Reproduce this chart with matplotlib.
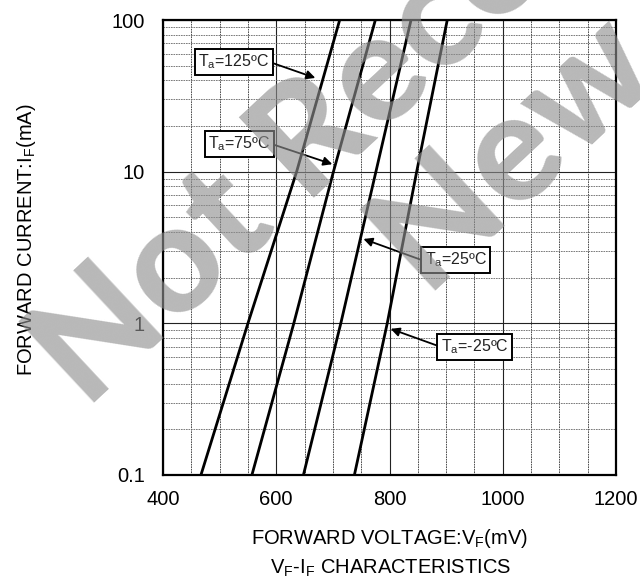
import numpy as np
import matplotlib
matplotlib.use("Agg")
import matplotlib.pyplot as plt
from matplotlib.ticker import FixedLocator, NullFormatter

plt.rcParams['font.family'] = ['Liberation Sans', 'DejaVu Sans']
plt.rcParams['mathtext.fontset'] = 'custom'
plt.rcParams['mathtext.rm'] = 'Liberation Sans'

# forward current points (mA) and forward voltage (mV)
current = [0.1, 1, 10, 100]
vf_125 = [467, 550, 636, 712]
vf_75 = [557, 631, 701, 775]
vf_25 = [648, 714, 776, 838]
vf_m25 = [738, 796, 848, 902]

temps = ["125", "75", "25", "-25"]
curves = [vf_125, vf_75, vf_25, vf_m25]

# annotation: arrow tip (mV, mA), box centre (mV, mA), arrow start on the box
tips = [(669, 41.5), (699, 11.2), (754, 3.6), (802, 0.92)]
boxes = [(525, 52.9), (535, 15.3), (917, 2.61), (950, 0.70)]
relpos = [(1, 0.5), (1, 0.5), (0, 0.45), (0, 0.5)]

fig = plt.figure(figsize=(6.4, 5.87), dpi=100)
ax = fig.add_axes([163 / 640, 1 - 475 / 587, (616 - 163) / 640, (475 - 20) / 587])

for vf in curves:
    ax.plot(vf, current, color='black', lw=2.0, solid_capstyle='butt', zorder=3)

ax.set_yscale('log')
ax.set_xlim(400, 1200)
ax.set_ylim(0.1, 100)

ax.xaxis.set_major_locator(FixedLocator([400, 600, 800, 1000, 1200]))
ax.xaxis.set_minor_locator(FixedLocator(np.arange(400, 1201, 50)))
ax.yaxis.set_major_locator(FixedLocator([0.1, 1, 10, 100]))
minor_y = [m * d for d in [0.1, 1, 10] for m in range(2, 10)]
ax.yaxis.set_minor_locator(FixedLocator(minor_y))
ax.yaxis.set_minor_formatter(NullFormatter())
ax.set_yticklabels(["0.1", "1", "10", "100"])
ax.tick_params(which='both', length=0, labelsize=14.5, colors='black')
ax.tick_params(axis='x', pad=11)
ax.tick_params(axis='y', pad=13)

ax.grid(which='minor', axis='x', color='#333333', lw=0.6, ls=(0, (2, 1)), zorder=1)
ax.grid(which='minor', axis='y', color='#666666', lw=0.6, ls=(0, (2, 1)), zorder=1)
ax.grid(which='major', color='#222222', lw=0.8, ls='-', zorder=1)
ax.set_axisbelow(True)
for s in ax.spines.values():
    s.set_linewidth(1.6)
    s.set_color('black')

for t, tip, box, rp in zip(temps, tips, boxes, relpos):
    ax.annotate(r"T$_\mathregular{a}$=" + t + "ºC", xy=tip, xytext=box,
                ha='center', va='center', fontsize=11.5, color='#222222',
                bbox=dict(boxstyle='square,pad=0.22', fc='white', ec='black', lw=1.4),
                arrowprops=dict(arrowstyle='-|>', color='black', lw=1.3,
                                mutation_scale=13, relpos=rp, shrinkA=0, shrinkB=0),
                zorder=5)

fig.text(27 / 640, 1 - 240 / 587, r"FORWARD CURRENT:I$_\mathregular{F}$(mA)",
         rotation=90, ha='center', va='center', fontsize=14.5)
fig.text(390 / 640, 1 - 538 / 587, r"FORWARD VOLTAGE:V$_\mathregular{F}$(mV)",
         ha='center', va='center', fontsize=14.5)
fig.text(391 / 640, 1 - 568 / 587, r"V$_\mathregular{F}$-I$_\mathregular{F}$ CHARACTERISTICS",
         ha='center', va='center', fontsize=14.5)

# watermark
wm = dict(fontsize=110, family=['Lato', 'Liberation Sans'], fontweight='black',
          color='#8f8f8f', alpha=0.63,
          rotation=43, rotation_mode='anchor', ha='left', va='baseline', zorder=10)
fig.text(86 / 640, 1 - 410 / 587, "Not Recommended for", **wm)
fig.text(428 / 640, 1 - 298 / 587, "New Designs", **wm)

fig.savefig("out.png", dpi=100)
